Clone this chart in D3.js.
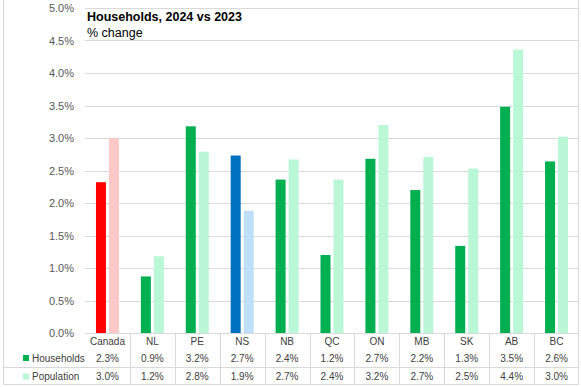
<!DOCTYPE html>
<html><head><meta charset="utf-8">
<script src="https://cdn.jsdelivr.net/npm/d3@7"></script>
<style>body{margin:0;background:#fff}svg{display:block;font-family:"Liberation Sans",Arial,sans-serif}</style>
</head><body><svg id="c" width="581" height="387"></svg>
<script>
const categories = ["Canada","NL","PE","NS","NB","QC","ON","MB","SK","AB","BC"];
const households = [2.32,0.87,3.18,2.73,2.36,1.20,2.68,2.20,1.34,3.48,2.64];
const population = [3.00,1.18,2.79,1.88,2.67,2.36,3.20,2.71,2.53,4.36,3.02];
const yTicks = [0,0.5,1,1.5,2,2.5,3,3.5,4,4.5,5];
const seriesNames = ["Households","Population"];
const hhColors = {Canada:"#FF0000", NS:"#0070C0"};
const popColors = {Canada:"#FFC9C9", NS:"#BDDFFA"};
const hhDefault = "#00B050", popDefault = "#B9F7D7";

const svg = d3.select("#c");
const L = 85, R = 579, T = 8, B = 333;
const x = d3.scaleBand().domain(categories).range([L,R]).paddingInner(0).paddingOuter(0);
const y = d3.scaleLinear().domain([0,5]).range([B,T]);
const fmt = d3.format(".1f");
const grid = "#D9D9D9";

// gridlines
svg.append("g").selectAll("line").data(yTicks).join("line")
  .attr("x1",L).attr("x2",R).attr("y1",d=>Math.round(y(d))+0.5).attr("y2",d=>Math.round(y(d))+0.5)
  .attr("stroke",grid).attr("stroke-width",1);

// y axis labels
const yAxis = d3.axisLeft(y).tickValues(yTicks).tickSize(0).tickPadding(0).tickFormat(d=>fmt(d)+"%");
const ya = svg.append("g").attr("transform",`translate(74,0)`).call(yAxis);
ya.select(".domain").remove();
ya.selectAll("text").attr("font-size",11).attr("fill","#595959").attr("font-family","Liberation Sans, Arial, sans-serif");

// bars
const bw = 10, gap = 3;
const g = svg.append("g");
g.selectAll("rect.hh").data(categories).join("rect").attr("class","hh")
  .attr("x",(d)=>x(d)+x.bandwidth()/2-gap/2-bw)
  .attr("width",bw)
  .attr("y",(d,i)=>y(households[i]))
  .attr("height",(d,i)=>y(0)-y(households[i]))
  .attr("fill",d=>hhColors[d]||hhDefault);
g.selectAll("rect.pop").data(categories).join("rect").attr("class","pop")
  .attr("x",(d)=>x(d)+x.bandwidth()/2+gap/2)
  .attr("width",bw)
  .attr("y",(d,i)=>y(population[i]))
  .attr("height",(d,i)=>y(0)-y(population[i]))
  .attr("fill",d=>popColors[d]||popDefault);

// table lines
const tb = svg.append("g").attr("stroke",grid).attr("stroke-width",1);
tb.append("line").attr("x1",L).attr("x2",R).attr("y1",333.5).attr("y2",333.5);
tb.append("line").attr("x1",3).attr("x2",R).attr("y1",367.5).attr("y2",367.5);
tb.append("line").attr("x1",3).attr("x2",R).attr("y1",384.5).attr("y2",384.5);
tb.selectAll("line.v").data(categories.slice(1)).join("line").attr("class","v")
  .attr("x1",d=>Math.round(x(d))+0.5).attr("x2",d=>Math.round(x(d))+0.5).attr("y1",333).attr("y2",385);
// outer border
tb.append("line").attr("x1",3.5).attr("x2",3.5).attr("y1",0).attr("y2",385);
tb.append("line").attr("x1",578.5).attr("x2",578.5).attr("y1",0).attr("y2",385);

// table text
const tt = svg.append("g").attr("font-size",10).attr("fill","#404040").attr("text-anchor","middle");
tt.selectAll("text.cat").data(categories).join("text").attr("class","cat")
  .attr("x",d=>x(d)+x.bandwidth()/2).attr("y",345).text(d=>d);
tt.selectAll("text.hv").data(categories).join("text").attr("class","hv")
  .attr("x",d=>x(d)+x.bandwidth()/2).attr("y",361.5).text((d,i)=>fmt(households[i])+"%");
tt.selectAll("text.pv").data(categories).join("text").attr("class","pv")
  .attr("x",d=>x(d)+x.bandwidth()/2).attr("y",379.5).text((d,i)=>fmt(population[i])+"%");

// legend keys in table
const legY = [355,373.5];
const legCol = [hhDefault, popDefault];
const lg = svg.append("g");
lg.selectAll("rect").data(seriesNames).join("rect")
  .attr("x",23).attr("y",(d,i)=>legY[i]).attr("width",6).attr("height",6).attr("fill",(d,i)=>legCol[i]);
lg.selectAll("text").data(seriesNames).join("text")
  .attr("x",32).attr("y",(d,i)=>legY[i]+6.5).attr("font-size",10).attr("fill","#404040").text(d=>d);

// title
svg.append("text").attr("x",87).attr("y",21).attr("font-size",12.5).attr("font-weight","bold").attr("fill","#000").text("Households, 2024 vs 2023");
svg.append("text").attr("x",87).attr("y",37).attr("font-size",12.5).attr("fill","#000").text("% change");
</script></body></html>
